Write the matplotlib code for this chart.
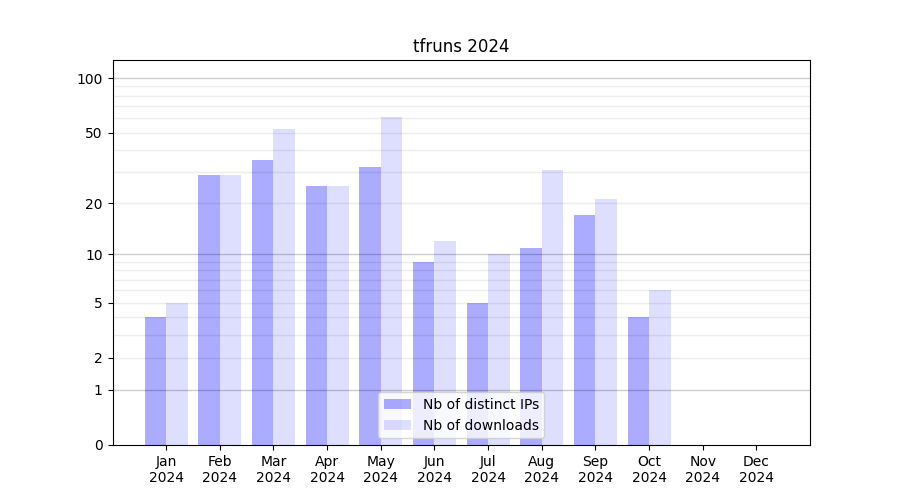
import numpy as np
import matplotlib
matplotlib.use("Agg")
import matplotlib.pyplot as plt
from matplotlib.ticker import FixedLocator, FixedFormatter, NullFormatter

months = ["Jan", "Feb", "Mar", "Apr", "May", "Jun", "Jul", "Aug", "Sep", "Oct", "Nov", "Dec"]
year = "2024"
distinct_ips = [4, 29, 35, 25, 32, 9, 5, 11, 17, 4, 0, 0]
downloads = [5, 29, 52, 25, 61, 12, 10, 31, 21, 6, 0, 0]
yticks = [0, 1, 2, 5, 10, 20, 50, 100]
major_grid = [1, 10, 100]
minor_grid = [2, 3, 4, 5, 6, 7, 8, 9, 20, 30, 40, 50, 60, 70, 80, 90]


def fwd(v):
    return np.log10(1 + np.clip(v, 0, None))


def inv(v):
    return 10 ** np.asarray(v) - 1


fig, ax = plt.subplots(figsize=(9, 5), dpi=100)
x = np.arange(len(months))
w = 0.4
ax.bar(x - w / 2, distinct_ips, w, color="blue", alpha=0.33, label="Nb of distinct IPs")
ax.bar(x + w / 2, downloads, w, color="blue", alpha=0.13, label="Nb of downloads")

ax.set_yscale("function", functions=(fwd, inv))
ax.set_ylim(0, 126)
ax.set_xlim(-1, 12)
ax.yaxis.set_major_locator(FixedLocator(yticks))
ax.yaxis.set_major_formatter(FixedFormatter([str(t) for t in yticks]))
ax.yaxis.set_minor_locator(FixedLocator(minor_grid))
ax.yaxis.set_minor_formatter(NullFormatter())
ax.tick_params(axis="y", which="minor", length=0)

for v in major_grid:
    ax.axhline(v, color="black", alpha=0.2, lw=1, zorder=1.5)
for v in minor_grid:
    ax.axhline(v, color="black", alpha=0.07, lw=1, zorder=1.5)

ax.set_xticks(x)
ax.set_xticklabels([m + "\n" + year for m in months])
ax.set_title("tfruns 2024")
ax.legend(loc="lower center")
fig.savefig("out.png")
